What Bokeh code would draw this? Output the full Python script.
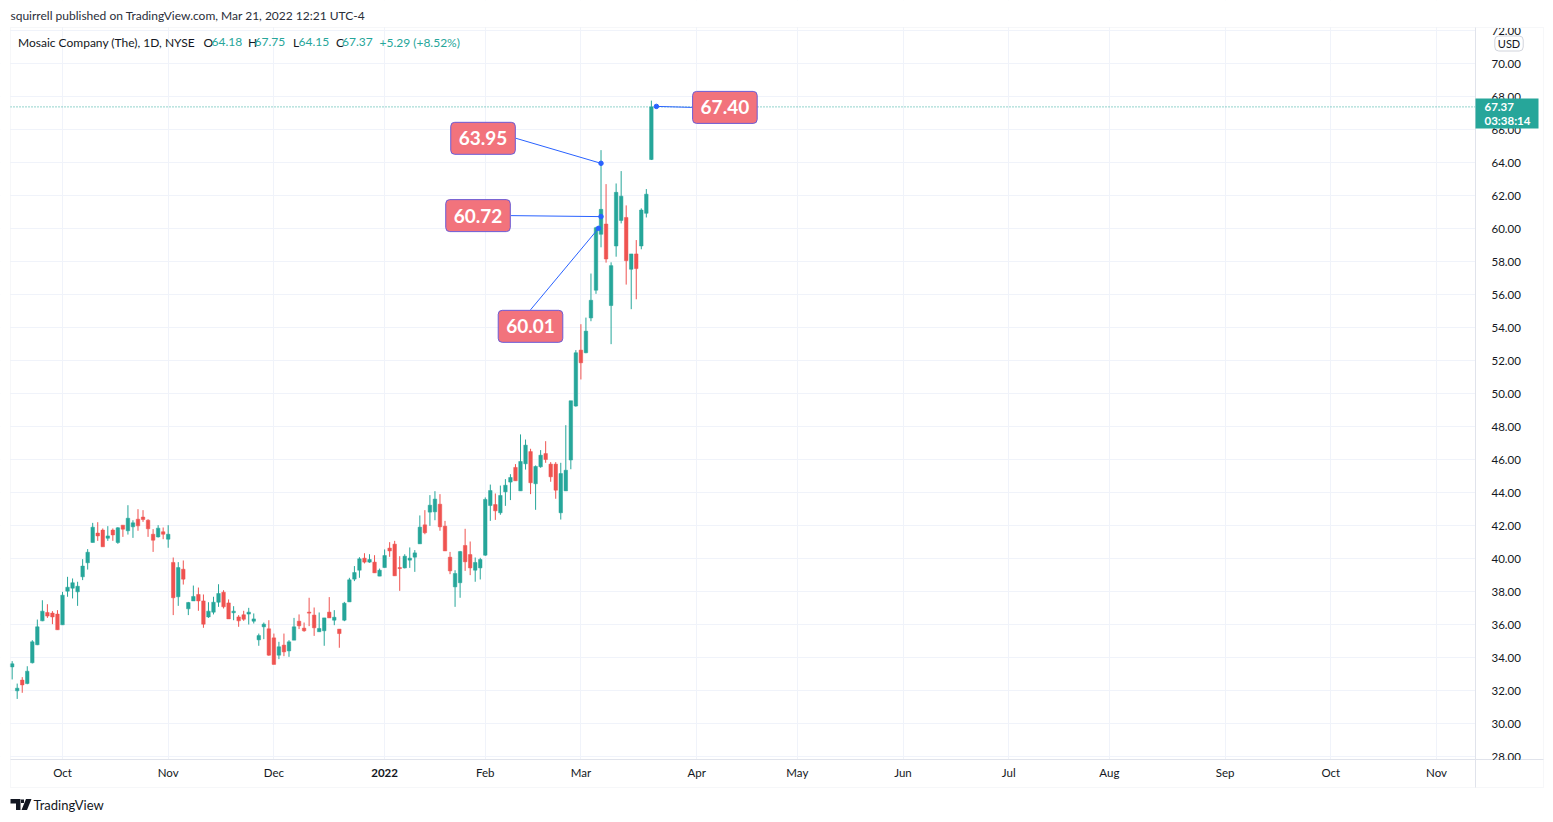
import numpy as np
import pandas as pd
from bokeh.plotting import figure
from bokeh.models import (ColumnDataSource, FixedTicker, NumeralTickFormatter, Label,
                          BoxAnnotation, PolyAnnotation, Range1d)
from bokeh.embed import file_html
from bokeh.resources import INLINE

# ---------------- data (MOS daily bars) ----------------
first_day = "2021-09-17"
holidays = ["2021-11-25", "2021-12-24", "2022-01-17", "2022-02-21", "2022-04-15",
            "2022-05-30", "2022-06-20", "2022-07-04", "2022-09-05"]

opens = [33.43, 31.98, 32.63, 32.42, 33.68, 34.77, 36.22, 36.73, 36.69, 36.63,
         35.98, 38.02, 38.20, 37.98, 38.89, 39.74, 40.97, 41.54, 41.72, 41.23,
         41.72, 40.97, 42.02, 41.68, 41.92, 42.38, 42.51, 42.32, 41.47, 41.31,
         41.62, 41.17, 39.76, 37.68, 39.35, 36.95, 37.43, 37.82, 37.43, 36.46,
         36.75, 37.35, 37.96, 37.31, 36.71, 36.46, 36.59, 36.63, 36.20, 35.07,
         35.86, 35.74, 35.19, 34.14, 34.75, 34.40, 35.05, 36.20, 35.78, 36.75,
         36.57, 35.56, 35.62, 36.75, 36.26, 35.72, 36.26, 37.37, 38.75, 39.29,
         40.02, 39.78, 39.78, 38.93, 39.45, 40.63, 40.87, 39.45, 39.43, 39.90,
         40.08, 40.89, 42.04, 42.81, 42.83, 43.29, 41.96, 40.08, 38.28, 38.53,
         40.79, 40.24, 39.29, 39.43, 40.20, 43.21, 43.27, 42.77, 44.04, 44.63,
         45.52, 44.10, 45.74, 46.48, 44.53, 45.56, 46.36, 45.72, 45.72, 42.77,
         44.10, 45.97, 49.24, 52.63, 52.47, 54.58, 56.26, 59.65, 60.27, 55.33,
         58.94, 60.49, 60.67, 57.53, 58.46, 58.94, 60.92, 64.18]
highs = [33.78, 32.42, 32.81, 33.47, 35.05, 36.30, 37.47, 37.23, 36.81, 36.87,
         37.98, 38.89, 38.79, 38.59, 39.96, 40.57, 42.16, 42.20, 41.82, 41.96,
         41.82, 41.90, 42.02, 43.23, 42.32, 42.99, 42.93, 42.38, 41.78, 42.02,
         41.88, 42.02, 40.06, 39.78, 39.88, 37.37, 38.36, 38.24, 37.82, 37.35,
         37.68, 38.44, 38.08, 37.52, 37.11, 36.57, 36.83, 37.01, 36.67, 35.45,
         36.12, 36.26, 35.45, 34.95, 35.45, 35.05, 36.40, 36.61, 36.12, 37.62,
         37.03, 36.73, 36.40, 37.66, 36.87, 35.72, 37.37, 38.83, 39.54, 40.08,
         40.32, 40.26, 40.20, 39.39, 40.55, 40.99, 41.07, 40.14, 40.26, 40.67,
         40.51, 42.61, 42.93, 43.84, 44.08, 43.90, 42.28, 40.40, 39.29, 40.46,
         41.80, 41.03, 40.06, 40.04, 43.70, 44.48, 43.94, 44.42, 44.81, 45.11,
         45.72, 47.52, 47.21, 46.65, 45.64, 46.57, 47.11, 45.84, 45.84, 45.80,
         48.08, 49.56, 52.63, 54.20, 54.60, 57.27, 60.10, 64.75, 62.69, 57.95,
         62.73, 63.48, 61.40, 58.46, 59.30, 61.22, 62.39, 67.75]
lows = [32.67, 31.49, 31.86, 32.38, 33.64, 34.75, 36.20, 36.40, 36.02, 35.68,
        35.98, 37.68, 37.58, 37.13, 38.69, 39.33, 40.97, 41.07, 40.71, 41.07,
        41.07, 40.89, 41.31, 41.45, 41.25, 41.68, 42.22, 41.31, 40.40, 41.27,
        41.17, 40.65, 36.57, 37.13, 38.42, 36.57, 37.43, 36.83, 35.80, 36.40,
        36.61, 37.07, 36.97, 36.34, 36.26, 35.86, 36.22, 36.00, 36.06, 34.71,
        35.11, 34.10, 33.58, 33.90, 34.08, 34.04, 35.05, 35.72, 35.56, 35.90,
        35.31, 35.56, 34.71, 36.40, 35.96, 34.59, 36.20, 37.37, 38.63, 38.83,
        39.70, 39.74, 39.13, 38.93, 39.45, 40.10, 38.95, 38.04, 39.40, 39.43,
        39.19, 40.89, 41.47, 41.98, 42.32, 41.68, 40.46, 39.05, 37.07, 37.62,
        39.25, 38.99, 38.59, 38.73, 40.16, 42.28, 42.34, 42.65, 43.19, 43.54,
        44.71, 44.10, 45.39, 43.90, 42.95, 45.50, 45.80, 44.65, 43.62, 42.36,
        44.10, 45.41, 49.20, 50.85, 52.44, 54.38, 56.04, 58.86, 57.93, 52.99,
        58.29, 60.31, 56.60, 55.11, 55.71, 58.74, 60.67, 64.15]
closes = [33.62, 32.14, 32.34, 33.17, 34.95, 35.86, 36.81, 36.51, 36.46, 35.68,
          37.78, 38.26, 38.53, 38.32, 39.54, 40.38, 41.90, 41.37, 40.71, 41.37,
          41.43, 41.86, 41.78, 42.44, 42.16, 41.98, 42.36, 41.80, 41.11, 41.84,
          41.47, 41.47, 37.62, 39.45, 38.75, 37.33, 37.70, 37.43, 36.02, 36.81,
          37.35, 37.88, 37.07, 36.34, 36.81, 36.22, 36.32, 36.75, 36.34, 35.33,
          36.02, 34.14, 33.58, 34.65, 34.34, 34.95, 35.86, 35.92, 35.62, 36.69,
          35.80, 35.76, 36.40, 36.40, 36.44, 35.45, 37.29, 38.71, 39.15, 39.98,
          39.78, 39.94, 39.13, 39.29, 40.18, 40.46, 38.95, 39.39, 40.14, 40.02,
          40.34, 41.90, 41.56, 43.23, 43.60, 41.92, 40.46, 39.25, 39.09, 40.42,
          39.80, 39.43, 39.76, 39.94, 43.58, 44.12, 42.89, 43.82, 44.44, 44.91,
          44.71, 45.88, 46.87, 44.59, 45.58, 46.26, 46.00, 44.95, 44.14, 45.15,
          45.35, 49.56, 52.47, 51.86, 53.78, 55.65, 60.05, 61.16, 58.15, 57.75,
          62.19, 61.96, 58.05, 58.46, 57.57, 61.12, 62.08, 67.37]

y_ticks = list(range(28, 73, 2))
note_values = [63.95, 60.72, 60.01, 67.40]
note_bars = [117, 117, 116.5, 128]

header_text = "squirrell published on TradingView.com, Mar 21, 2022 12:21 UTC-4"
legend_name = "Mosaic Company (The), 1D, NYSE"
countdown = "03:38:14"
currency = "USD"
brand = "TradingView"

# ---------------- derived ----------------
days = pd.bdate_range(first_day, "2022-11-30", freq="C", holidays=holidays)
month_pos, month_lab = [], []
for i in range(1, len(days)):
    if days[i].month != days[i - 1].month:
        month_pos.append(i)
        month_lab.append(str(days[i].year) if days[i].month == 1 else days[i].strftime("%b"))

o = np.array(opens); h = np.array(highs); l = np.array(lows); c = np.array(closes)
idx = np.arange(len(c))
UP, DOWN = "#26a69a", "#ef5350"
colors = [UP if cc >= oo else DOWN for oo, cc in zip(o, c)]
src = ColumnDataSource(dict(x=idx, high=h, low=l, top=np.maximum(o, c),
                            bottom=np.minimum(o, c), color=colors))

# ---------------- layout constants (page pixels) ----------------
W, H = 1545, 814               # canvas
BAR0_PX, BAR_PX = 11.67, 5.033 # x pixel of bar 0, pixels per bar
P70_PX, UNIT_PX = 63.0, 16.5   # y pixel of price 70, pixels per price unit
CH_L, CH_T, CH_R, CH_B = 10, 27, 1543, 787   # chart box
SCALE_X, TIME_Y = 1475, 759                  # price scale / time scale separators

def dx(px):      # page x -> bar coordinate
    return (px - BAR0_PX) / BAR_PX

def dy(py):      # page y -> price
    return 70 - (py - P70_PX) / UNIT_PX

def sy(py):      # page y -> screen units (from frame bottom)
    return H - py

FONT = "Lato"
TXT = "#131722"
GRID = "#f0f3fa"
BORDER = "#e0e3eb"

p = figure(width=W, height=H, x_range=Range1d(dx(0), dx(W)), y_range=Range1d(dy(H), dy(0)),
           y_axis_location="right", output_backend="svg", toolbar_location=None,
           min_border=0, min_border_left=0, min_border_right=0, min_border_top=0,
           min_border_bottom=0, background_fill_color="white", border_fill_color="white")
p.outline_line_color = None

for ax in (p.xaxis[0], p.yaxis[0]):
    ax.axis_line_color = BORDER
    ax.major_tick_line_color = None
    ax.minor_tick_line_color = None
    ax.major_label_text_font = FONT
    ax.major_label_text_color = TXT
    ax.major_label_text_font_size = "11.5px"

yax = p.yaxis[0]
yax.ticker = FixedTicker(ticks=y_ticks)
yax.formatter = NumeralTickFormatter(format="0.00")
yax.major_label_standoff = 10
yax.fixed_location = dx(SCALE_X)
yax.bounds = (dy(CH_B), dy(CH_T))

xax = p.xaxis[0]
xax.ticker = FixedTicker(ticks=month_pos)
xax.major_label_overrides = {pos: ("" if lab.isdigit() else lab)
                             for pos, lab in zip(month_pos, month_lab)}
xax.major_label_standoff = 0
xax.fixed_location = dy(TIME_Y)
xax.bounds = (dx(CH_L), dx(CH_R))

p.xgrid.ticker = FixedTicker(ticks=month_pos)
p.ygrid.ticker = FixedTicker(ticks=y_ticks)
p.xgrid.grid_line_color = GRID
p.ygrid.grid_line_color = GRID

def sbox(l, r, t, b, **kw):
    return BoxAnnotation(left=l, right=r, top=sy(t), bottom=sy(b), left_units="screen",
                         right_units="screen", top_units="screen", bottom_units="screen", **kw)

# white masks over the grid outside the pane
for (l_, r_, t_, b_) in [(0, W, 0, CH_T), (0, W, TIME_Y, H), (SCALE_X, W, 0, H), (0, CH_L, 0, H)]:
    p.add_layout(sbox(l_, r_, t_, b_, fill_color="white", fill_alpha=1, line_color=None,
                      level="underlay"))

# candles
p.segment(x0="x", y0="low", x1="x", y1="high", line_color="color", line_width=1, source=src)
p.vbar(x="x", width=0.7, top="top", bottom="bottom", fill_color="color",
       line_color="color", line_width=0.5, source=src)

# last price dotted line
last = closes[-1]
p.segment(x0=[dx(CH_L)], y0=[last], x1=[dx(SCALE_X)], y1=[last], line_color=UP,
          line_width=1, line_dash="1 2")

# price notes (callouts)
note_offsets = [(-118, 25), (-123, 1), (-68, -98), (68.5, -1)]   # box centre vs anchor, px
note_edges = [(33, 0), (33, 0), (0, 16.5), (-33, 0)]             # connector end vs box centre
lx = [b + (ox + ex) / BAR_PX for b, (ox, oy), (ex, ey) in zip(note_bars, note_offsets, note_edges)]
ly = [v + (oy + ey) / UNIT_PX for v, (ox, oy), (ex, ey) in zip(note_values, note_offsets, note_edges)]
p.segment(x0=note_bars, y0=note_values, x1=lx, y1=ly, line_color="#2962ff", line_width=1)
p.scatter(x=note_bars, y=note_values, size=4.5, marker="circle", color="#2962ff")
for v, b, (ox, oy) in zip(note_values, note_bars, note_offsets):
    p.add_layout(Label(x=b, y=v, x_offset=ox, y_offset=oy, text=f"{v:.2f}",
                       text_font=FONT, text_font_size="19px", text_font_style="bold",
                       text_color="white", text_align="center", text_baseline="middle",
                       background_fill_color="#f2737c", border_line_color="#6b5bd6",
                       border_line_width=1, border_radius=4, padding=(8, 9)))

# clip the price-scale labels at the pane edges
p.add_layout(sbox(SCALE_X + 1, CH_R - 1, 0, CH_T + 0.5, fill_color="white", fill_alpha=1,
                  line_color=None))
p.add_layout(sbox(SCALE_X + 1, CH_R - 1, TIME_Y + 0.5, CH_B - 1, fill_color="white",
                  fill_alpha=1, line_color=None))

# chart box border
p.add_layout(sbox(CH_L, CH_R, CH_T, CH_B, fill_alpha=0, line_color=BORDER, line_width=1))

# price tag on the scale
p.add_layout(BoxAnnotation(left=SCALE_X, right=1538, left_units="screen", right_units="screen",
                           top=last + 8.5 / UNIT_PX, bottom=last - 21.5 / UNIT_PX,
                           fill_color=UP, fill_alpha=1, line_color=None))
p.add_layout(Label(x=1484, y=last, x_units="screen", y_offset=0, text=f"{last:.2f}",
                   text_font=FONT, text_font_size="11.5px", text_font_style="bold",
                   text_color="white", text_baseline="middle"))
p.add_layout(Label(x=1484, y=last, x_units="screen", y_offset=-14, text=countdown,
                   text_font=FONT, text_font_size="11.5px", text_font_style="bold",
                   text_color="white", text_baseline="middle"))

# currency badge
p.add_layout(Label(x=1508.5, y=sy(43), x_units="screen", y_units="screen", text=currency,
                   text_font=FONT, text_font_size="11px", text_color=TXT,
                   text_align="center", text_baseline="middle",
                   background_fill_color="white", border_line_color="#d1d4dc",
                   border_radius=4, padding=(3, 1)))

# bold year label on the time scale
for pos, lab in zip(month_pos, month_lab):
    if lab.isdigit():
        p.add_layout(Label(x=pos, y=sy(772.5), y_units="screen", text=lab,
                           text_font=FONT, text_font_size="11.5px", text_font_style="bold",
                           text_color=TXT, text_align="center", text_baseline="middle"))

# header
p.add_layout(Label(x=10, y=sy(14.5), x_units="screen", y_units="screen", text=header_text,
                   text_font=FONT, text_font_size="12px", text_color="#2a2e39",
                   text_baseline="middle"))

# symbol legend
chg = closes[-1] - closes[-2]
pct = chg / closes[-2] * 100
legend_parts = [
    (legend_name, 17.5, TXT),
    ("O", 203, TXT), (f"{opens[-1]:.2f}", 211, UP),
    ("H", 247.5, TXT), (f"{highs[-1]:.2f}", 254, UP),
    ("L", 292.5, TXT), (f"{lows[-1]:.2f}", 298, UP),
    ("C", 335.5, TXT), (f"{closes[-1]:.2f}", 341.5, UP),
    (f"{chg:+.2f} ({pct:+.2f}%)", 379, UP),
]
for text, px, col in legend_parts:
    p.add_layout(Label(x=px, y=sy(41.5), x_units="screen", y_units="screen", text=text,
                       text_font=FONT, text_font_size="12px", text_color=col,
                       text_baseline="middle"))

# brand footer
logo_shapes = [
    ((10, 20, 20, 15.5, 15.5, 10), (798.5, 798.5, 809.5, 809.5, 803, 803)),
    ((20.5, 23.5, 23.5, 20.5), (799, 799, 802.5, 802.5)),
    ((25.5, 31, 26.5, 21), (798.5, 798.5, 809.5, 809.5)),
]
for xs_, ys_ in logo_shapes:
    p.add_layout(PolyAnnotation(xs=list(xs_), ys=[sy(v) for v in ys_],
                                xs_units="screen", ys_units="screen",
                                fill_color=TXT, fill_alpha=1, line_color=None))
p.add_layout(Label(x=33, y=sy(804), x_units="screen", y_units="screen", text=brand,
                   text_font=FONT, text_font_size="13px", text_color=TXT,
                   text_baseline="middle"))

open("out.html", "w").write(file_html(p, INLINE))
